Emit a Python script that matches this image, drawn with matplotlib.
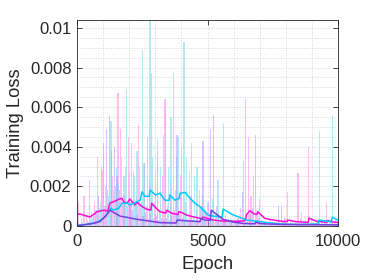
import numpy as np
import matplotlib
matplotlib.use("Agg")
from matplotlib import pyplot as plt

# raw per-epoch losses, one sample every 100 epochs
raw_epochs = np.arange(0, 10001, 100)

pink_raw = [
    0.0006, 0.0012, 0.0004, 0.0015, 0.0005, 0.0023, 0.0007, 0.0012, 0.0035, 0.0009,
    0.0028, 0.0010, 0.0018, 0.0008, 0.0025, 0.0020, 0.0067, 0.0049, 0.0016, 0.0030,
    0.0045, 0.0012, 0.0028, 0.0015, 0.0051, 0.0012, 0.0032, 0.0010, 0.0022, 0.0077,
    0.0012, 0.0035, 0.0008, 0.0025, 0.0064, 0.0010, 0.0022, 0.0007, 0.0018, 0.0006,
    0.0026, 0.0005, 0.0012, 0.0004, 0.0015, 0.0004, 0.0008, 0.0003, 0.0010, 0.0003,
    0.0006, 0.0002, 0.0004, 0.0002, 0.0003, 0.0002, 0.0005, 0.0002, 0.0003, 0.0002,
    0.0003, 0.0002, 0.0004, 0.0009, 0.0033, 0.0064, 0.0045, 0.0015, 0.0025, 0.0008,
    0.0004, 0.0003, 0.0002, 0.0002, 0.0003, 0.0002, 0.0002, 0.0002, 0.0003, 0.0002,
    0.0004, 0.0017, 0.0003, 0.0002, 0.0003, 0.0027, 0.0004, 0.0002, 0.0003, 0.0040,
    0.0003, 0.0002, 0.0002, 0.0003, 0.0002, 0.0002, 0.0012, 0.0003, 0.0002, 0.0002,
    0.0002,
]

cyan_raw = [
    0.0001, 0.0001, 0.0002, 0.0001, 0.0003, 0.0002, 0.0004, 0.0003, 0.0006, 0.0012,
    0.0008, 0.0020, 0.0015, 0.0053, 0.0018, 0.0030, 0.0022, 0.0035, 0.0025, 0.0069,
    0.0028, 0.0042, 0.0025, 0.0038, 0.0030, 0.0089, 0.0032, 0.0045, 0.0110, 0.0035,
    0.0028, 0.0044, 0.0030, 0.0046, 0.0060, 0.0030, 0.0055, 0.0077, 0.0035, 0.0045,
    0.0040, 0.0093, 0.0035, 0.0028, 0.0042, 0.0025, 0.0030, 0.0018, 0.0015, 0.0010,
    0.0012, 0.0008, 0.0014, 0.0006, 0.0023, 0.0005, 0.0052, 0.0006, 0.0004, 0.0003,
    0.0003, 0.0002, 0.0002, 0.0002, 0.0001, 0.0002, 0.0001, 0.0001, 0.0002, 0.0001,
    0.0014, 0.0002, 0.0001, 0.0001, 0.0001, 0.0001, 0.0001, 0.0001, 0.0001, 0.0001,
    0.0001, 0.0001, 0.0001, 0.0001, 0.0001, 0.0001, 0.0007, 0.0001, 0.0001, 0.0001,
    0.0001, 0.0001, 0.0002, 0.0048, 0.0003, 0.0002, 0.0002, 0.0003, 0.0056, 0.0004,
    0.0003,
]

purple_raw = [
    0.00005, 0.00005, 0.0001, 0.0001, 0.0002, 0.0003, 0.0005, 0.0008, 0.0015, 0.0030,
    0.0042, 0.0049, 0.0056, 0.0038, 0.0040, 0.0025, 0.0018, 0.0012, 0.0015, 0.0010,
    0.0012, 0.0008, 0.0010, 0.0006, 0.0009, 0.0005, 0.0007, 0.0004, 0.0006, 0.0004,
    0.0005, 0.0003, 0.0004, 0.0003, 0.0004, 0.0003, 0.0005, 0.0008, 0.0046, 0.0006,
    0.0004, 0.0003, 0.0003, 0.0002, 0.0003, 0.0002, 0.0004, 0.0010, 0.0043, 0.0008,
    0.0012, 0.0049, 0.0056, 0.0010, 0.0006, 0.0004, 0.0003, 0.0002, 0.0002, 0.0002,
    0.0002, 0.0002, 0.0003, 0.0017, 0.0004, 0.0003, 0.0006, 0.0009, 0.0046, 0.0005,
    0.0002, 0.0001, 0.0001, 0.0001, 0.0001, 0.0001, 0.0002, 0.0010, 0.0010, 0.0002,
    0.0001, 0.0001, 0.0001, 0.0001, 0.0001, 0.0001, 0.0001, 0.0001, 0.0001, 0.0001,
    0.0001, 0.0001, 0.0001, 0.0001, 0.0001, 0.0001, 0.0001, 0.0001, 0.0001, 0.0001,
    0.0001,
]

# smoothed curves (epoch, loss)
magenta_ep = [0, 120, 380, 500, 770, 1030, 1180, 1260, 1450, 1600, 1720, 1800, 1920,
              2030, 2220, 2300, 2490, 2670, 2830, 2860, 3030, 3180, 3400, 3440, 3630,
              3870, 3900, 4010, 4200, 4440, 4710, 4780, 4830, 5210, 5590, 6240, 6450,
              6490, 6620, 6780, 6900, 6930, 7190, 7390, 7780, 8040, 8070, 8390, 8860,
              8890, 9160, 9570, 9600, 9810, 10000]
magenta_smooth = [0.0006, 0.0006, 0.0005, 0.00045, 0.00072, 0.0008, 0.00075, 0.00116,
                  0.00125, 0.00135, 0.0014, 0.0012, 0.00116, 0.00136, 0.00106, 0.0012,
                  0.00098, 0.00085, 0.0008, 0.00115, 0.0009, 0.00072, 0.00065, 0.0008,
                  0.00064, 0.00058, 0.00072, 0.00068, 0.00055, 0.00047, 0.00039,
                  0.00036, 0.00045, 0.0003, 0.00025, 0.00024, 0.00028, 0.00056, 0.00077,
                  0.00062, 0.00058, 0.00072, 0.00039, 0.00033, 0.00025, 0.00022, 0.0003,
                  0.00022, 0.00018, 0.0004, 0.00025, 0.00018, 0.00028, 0.0002, 0.00018]

cyan_ep = [0, 120, 500, 770, 1020, 1215, 1300, 1400, 1600, 1720, 1920, 2030, 2300,
           2420, 2490, 2600, 2770, 2800, 3000, 3180, 3370, 3530, 3560, 3750, 3920,
           3950, 4140, 4330, 4520, 4710, 4900, 5020, 5210, 5560, 5600, 5980, 6510,
           7010, 7780, 8540, 9230, 9270, 9730, 9780, 10000]
cyan_smooth = [0.00003, 0.00005, 0.0001, 0.0002, 0.0004, 0.00072, 0.0009, 0.0008,
               0.0009, 0.00115, 0.00115, 0.00106, 0.00123, 0.0013, 0.00173, 0.0015,
               0.0015, 0.00182, 0.00157, 0.00165, 0.0013, 0.0013, 0.00157, 0.0013,
               0.0014, 0.00165, 0.0017, 0.0014, 0.00115, 0.00098, 0.00072, 0.00056,
               0.0005, 0.00045, 0.00085, 0.00056, 0.0003, 0.00022, 0.0001, 0.00008,
               0.0001, 0.0003, 0.00022, 0.00044, 0.0003]

purple_ep = [0, 120, 610, 880, 1140, 1264, 1456, 1650, 1900, 2290, 2670, 3180, 3790,
             3840, 4330, 4710, 4760, 4900, 5100, 5150, 5290, 5590, 5980, 6360, 6820,
             6850, 7010, 7780, 8540, 10000]
purple_smooth = [0.00002, 0.00003, 0.00013, 0.00022, 0.00056, 0.0008, 0.00064, 0.0005,
                 0.00044, 0.00034, 0.00027, 0.00017, 0.00015, 0.0003, 0.00025, 0.00022,
                 0.00039, 0.0003, 0.00028, 0.0008, 0.00065, 0.00034, 0.0002, 0.00013,
                 0.00011, 0.0002, 0.00012, 0.00008, 0.00007, 0.00006]

x_ticks = [0, 5000, 10000]
x_labels = ["0", "5000", "10000"]
y_ticks = [0, 0.002, 0.004, 0.006, 0.008, 0.01]
y_labels = ["0", "0.002", "0.004", "0.006", "0.008", "0.01"]

plt.rcParams["font.family"] = ["Liberation Sans", "DejaVu Sans"]

magenta = (1.0, 0.05, 0.82)
cyan = (0.0, 0.80, 0.97)
purple = (0.47, 0.25, 0.88)
dark = (0.15, 0.15, 0.15)

fig = plt.figure(figsize=(3.74, 2.80), dpi=100)
ax = fig.add_axes([77 / 374, 1 - 226 / 280, 261 / 374, 206 / 280])

# noisy raw curves as thin spikes, smoothed ones on top
ax.bar(raw_epochs - 30, pink_raw, width=45, color=(1.0, 0.55, 0.9), alpha=0.55, lw=0)
ax.bar(raw_epochs, cyan_raw, width=45, color=(0.45, 0.86, 0.94), alpha=0.55, lw=0)
ax.bar(raw_epochs + 30, purple_raw, width=45, color=(0.72, 0.58, 1.0), alpha=0.55, lw=0)

ax.plot(magenta_ep, magenta_smooth, color=magenta, lw=1.1)
ax.plot(cyan_ep, cyan_smooth, color=cyan, lw=1.1)
ax.plot(purple_ep, purple_smooth, color=purple, lw=1.1)

ax.set_xlim(0, 10000)
ax.set_ylim(0, 0.0104)

ax.set_xticks(x_ticks)
ax.set_xticklabels(x_labels)
ax.set_yticks(y_ticks)
ax.set_yticklabels(y_labels)
ax.set_xticks(np.arange(0, 10001, 1000), minor=True)
ax.set_yticks(np.arange(0, 0.0104, 0.0005), minor=True)

ax.grid(which="both", linestyle=":", color=(0.84, 0.84, 0.84), lw=0.7)
ax.set_axisbelow(True)

ax.tick_params(which="major", direction="in", length=3.5, width=0.6,
               top=True, right=True, color=dark, labelcolor=dark, labelsize=12)
ax.tick_params(which="minor", length=0)
ax.tick_params(axis="x", pad=6)
ax.tick_params(axis="y", pad=4)
for s in ax.spines.values():
    s.set_color(dark)
    s.set_linewidth(0.6)

ax.set_xlabel("Epoch", fontsize=13.2, color=dark, labelpad=5)
ax.set_ylabel("Training Loss", fontsize=13.2, color=dark, labelpad=4)

fig.savefig("out.png", dpi=100)
